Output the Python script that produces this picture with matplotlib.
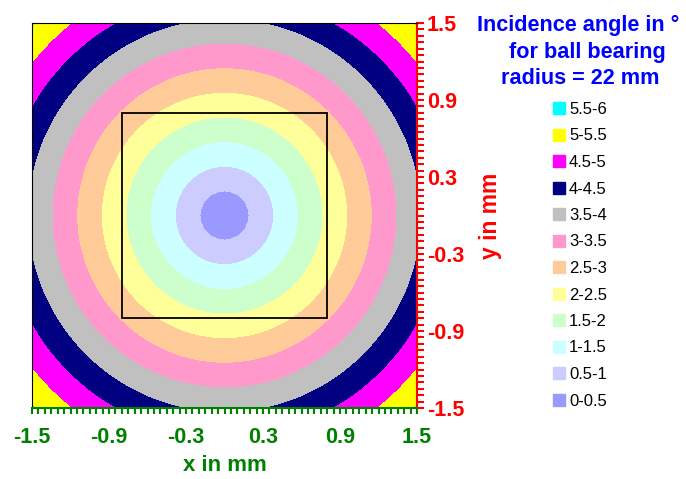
import numpy as np
import matplotlib
matplotlib.use("Agg")
import matplotlib.pyplot as plt
from matplotlib.lines import Line2D
from matplotlib.patches import Rectangle
from matplotlib.ticker import MultipleLocator, FixedLocator

plt.rcParams['font.family'] = ['Liberation Sans', 'DejaVu Sans']

# Ball bearing radius (mm) and band edges of the incidence angle (degrees)
ball_radius = 22.0
levels = [0, 0.5, 1, 1.5, 2, 2.5, 3, 3.5, 4, 4.5, 5, 5.5, 6]
band_labels = ["0-0.5", "0.5-1", "1-1.5", "1.5-2", "2-2.5", "2.5-3",
               "3-3.5", "3.5-4", "4-4.5", "4.5-5", "5-5.5", "5.5-6"]
band_colors = ["#9999FF", "#CCCCFF", "#CCFFFF", "#CCFFCC", "#FFFF99", "#FFCC99",
               "#FF99CC", "#C0C0C0", "#000080", "#FF00FF", "#FFFF00", "#00FFFF"]
major_ticks = [-1.5, -0.9, -0.3, 0.3, 0.9, 1.5]
roi_half = 0.8
title_lines = ["Incidence angle in °", "for ball bearing", "radius = 22 mm"]

W, H = 686, 479

# Sample grid over the scanned area (mm)
x = np.linspace(-1.5, 1.5, 61)
y = np.linspace(-1.5, 1.5, 61)
X, Y = np.meshgrid(x, y)
angle = np.degrees(np.arcsin(np.hypot(X, Y) / ball_radius))

fig = plt.figure(figsize=(W / 100, H / 100), dpi=100)
ax = fig.add_axes([32 / W, 1 - 408 / H, 385 / W, 385 / H])

ax.contourf(X, Y, angle, levels=levels, colors=band_colors)
ax.add_patch(Rectangle((-roi_half, -roi_half), 2 * roi_half, 2 * roi_half,
                       fill=False, edgecolor="black", linewidth=1.3, zorder=3))

ax.set_xlim(-1.5, 1.5)
ax.set_ylim(-1.5, 1.5)

green = "#008000"
red = "#FF0000"
blue = "#0000FF"

ax.xaxis.set_major_locator(FixedLocator(major_ticks))
ax.xaxis.set_minor_locator(MultipleLocator(0.05))
ax.yaxis.set_major_locator(FixedLocator(major_ticks))
ax.yaxis.set_minor_locator(MultipleLocator(0.05))
ax.set_xticklabels([f"{v:g}" for v in major_ticks])
ax.set_yticklabels([f"{v:g}" for v in major_ticks])

ax.yaxis.tick_right()
ax.yaxis.set_label_position("right")

ax.tick_params(axis='x', which='both', direction='out', length=4.5, width=1.5,
               color=green, labelcolor=green, labelsize=15.5, pad=9)
ax.tick_params(axis='y', which='both', direction='out', length=5, width=1.5,
               color=red, labelcolor=red, labelsize=15.5, pad=2)
for lab in ax.get_xticklabels() + ax.get_yticklabels():
    lab.set_fontweight('bold')

ax.spines['bottom'].set_color(green)
ax.spines['bottom'].set_linewidth(1.5)
ax.spines['right'].set_color(red)
ax.spines['right'].set_linewidth(1.5)
ax.spines['top'].set_color("black")
ax.spines['left'].set_color("black")

ax.set_xlabel("x in mm", color=green, fontsize=16, fontweight='bold', labelpad=5)
ax.set_ylabel("y in mm", color=red, fontsize=16.5, fontweight='bold', labelpad=11)

# Legend title, three centred lines
for (cx, base), line in zip([(578.5, 31), (587, 58), (580, 84)], title_lines):
    fig.text(cx / W, 1 - base / H, line, color=blue, fontsize=15.6,
             fontweight='bold', ha='center', va='baseline')

# Legend entries, highest band first
for i, (lab, col) in enumerate(zip(band_labels[::-1], band_colors[::-1])):
    yc = 108 + 26.5 * i
    fig.add_artist(Line2D([559 / W], [1 - yc / H], transform=fig.transFigure,
                          linestyle='none', marker='s', markersize=8.6,
                          markerfacecolor=col, markeredgecolor=col))
    fig.text(569 / W, 1 - (yc + 6) / H, lab, color="black", fontsize=12,
             ha='left', va='baseline')

fig.savefig("out.png", dpi=100)
